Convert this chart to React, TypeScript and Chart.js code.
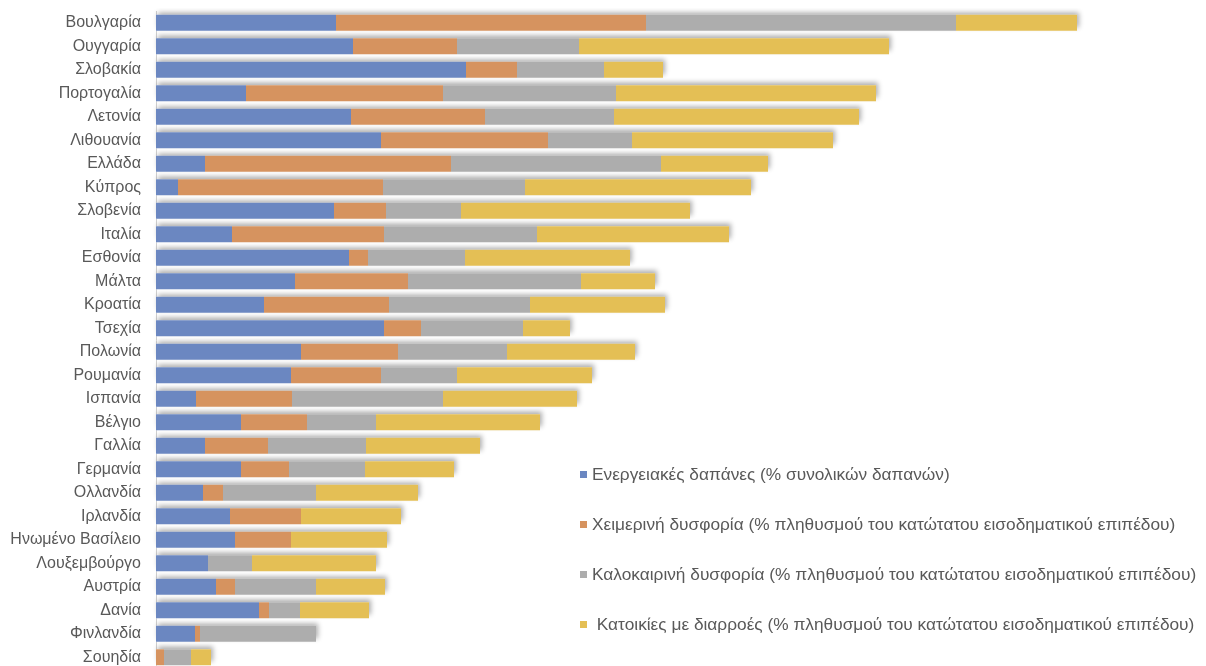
import React, { useEffect, useRef } from "react";
import { Chart, registerables } from "chart.js";

Chart.register(...registerables);

const countries = [
  "Βουλγαρία", "Ουγγαρία", "Σλοβακία", "Πορτογαλία", "Λετονία", "Λιθουανία", "Ελλάδα",
  "Κύπρος", "Σλοβενία", "Ιταλία", "Εσθονία", "Μάλτα", "Κροατία", "Τσεχία", "Πολωνία",
  "Ρουμανία", "Ισπανία", "Βέλγιο", "Γαλλία", "Γερμανία", "Ολλανδία", "Ιρλανδία",
  "Ηνωμένο Βασίλειο", "Λουξεμβούργο", "Αυστρία", "Δανία", "Φινλανδία", "Σουηδία",
];

const energyCosts = [18.0, 19.7, 31.0, 9.0, 19.5, 22.5, 4.9, 2.2, 17.8, 7.6, 19.3, 13.9, 10.8, 22.8, 14.5, 13.5, 4.0, 8.5, 4.9, 8.5, 4.7, 7.4, 7.9, 5.2, 6.0, 10.3, 3.9, 0];
const winterDiscomfort = [31.0, 10.4, 5.1, 19.7, 13.4, 16.7, 24.6, 20.5, 5.2, 15.2, 1.9, 11.3, 12.5, 3.7, 9.7, 9.0, 9.6, 6.6, 6.3, 4.8, 2.0, 7.1, 5.6, 0, 1.9, 1.0, 0.5, 0.8];
const summerDiscomfort = [31.0, 12.2, 8.7, 17.3, 12.9, 8.4, 21.0, 14.2, 7.5, 15.3, 9.7, 17.3, 14.1, 10.2, 10.9, 7.6, 15.1, 6.9, 9.8, 7.6, 9.3, 0, 0, 4.4, 8.1, 3.1, 11.6, 2.7];
const leakingDwellings = [12.1, 31.0, 5.9, 26.0, 24.5, 20.1, 10.7, 22.6, 22.9, 19.2, 16.5, 7.4, 13.5, 4.7, 12.8, 13.5, 13.4, 16.4, 11.4, 8.9, 10.2, 10.0, 9.6, 12.4, 6.9, 6.9, 0, 2.0];

const seriesLabels = [
  "Ενεργειακές δαπάνες (% συνολικών δαπανών)",
  "Χειμερινή δυσφορία (% πληθυσμού του κατώτατου εισοδηματικού επιπέδου)",
  "Καλοκαιρινή δυσφορία (% πληθυσμού του κατώτατου εισοδηματικού επιπέδου)",
  " Κατοικίες με διαρροές (% πληθυσμού του κατώτατου εισοδηματικού επιπέδου)",
];
const seriesColors = ["#6b87c1", "#d6935f", "#adadad", "#e4bf55"];

const FONT = "'Liberation Sans', Arial, Helvetica, sans-serif";

// Soft shadow behind each whole stacked bar (drawn before the segments).
const shadowPlugin = {
  id: "barShadow",
  beforeDatasetsDraw(chart: any) {
    const ctx = chart.ctx;
    const metas = chart.data.datasets.map((_: any, i: number) => chart.getDatasetMeta(i));
    const x0 = chart.scales.x.getPixelForValue(0);
    ctx.save();
    ctx.shadowColor = "rgba(0,0,0,0.32)";
    ctx.shadowBlur = 5;
    ctx.shadowOffsetX = 2;
    ctx.shadowOffsetY = -3;
    ctx.fillStyle = "#ffffff";
    chart.data.labels.forEach((_: any, idx: number) => {
      let right = x0;
      let y = 0;
      let h = 0;
      metas.forEach((m: any) => {
        const el = m.data[idx];
        if (!el) return;
        right = Math.max(right, el.x);
        y = el.y;
        h = el.height;
      });
      if (right > x0) ctx.fillRect(x0, y - h / 2, right - x0, h);
    });
    ctx.restore();
  },
};

const innerLegendPlugin = {
  id: "innerLegend",
  afterDraw(chart: any) {
    const ctx = chart.ctx;
    const x = 572;
    const ys = [466, 516, 566, 616];
    ctx.save();
    ctx.font = `17.3px ${FONT}`;
    ctx.textBaseline = "middle";
    ctx.textAlign = "left";
    chart.data.datasets.forEach((ds: any, i: number) => {
      ctx.fillStyle = ds.backgroundColor;
      ctx.fillRect(x, ys[i] - 3, 7, 7);
      ctx.fillStyle = "#595959";
      ctx.fillText(ds.label, x + 12, ys[i] + 1);
    });
    ctx.restore();
  },
};

export default function App() {
  const canvasRef = useRef<HTMLCanvasElement | null>(null);

  useEffect(() => {
    if (!canvasRef.current) return;
    const series = [energyCosts, winterDiscomfort, summerDiscomfort, leakingDwellings];
    const chart = new Chart(canvasRef.current, {
      type: "bar",
      data: {
        labels: countries,
        datasets: series.map((data, i) => ({
          label: seriesLabels[i],
          data,
          backgroundColor: seriesColors[i],
          borderWidth: 0,
          categoryPercentage: 1,
          barPercentage: 0.68,
        })),
      },
      options: {
        indexAxis: "y",
        animation: false,
        responsive: false,
        maintainAspectRatio: false,
        layout: { padding: { top: 3, bottom: 1, left: 0, right: 0 } },
        plugins: {
          legend: { display: false },
          tooltip: { enabled: false },
        },
        scales: {
          x: {
            stacked: true,
            display: false,
            min: 0,
            max: 105.0,
          },
          y: {
            stacked: true,
            grid: { display: false, drawTicks: false },
            border: { display: true, color: "#d0d0d0", width: 1 },
            ticks: {
              autoSkip: false,
              padding: 15,
              color: "#595959",
              font: { size: 16, family: FONT },
            },
            afterFit(scale: any) {
              scale.width = 148;
              scale.paddingTop = 0;
              scale.paddingBottom = 0;
            },
          },
        },
      },
      plugins: [shadowPlugin, innerLegendPlugin],
    });
    return () => chart.destroy();
  }, []);

  return (
    <div style={{ width: 1198, height: 658, overflow: "hidden", background: "#fff" }}>
      <canvas ref={canvasRef} width={1198} height={662} style={{ display: "block" }} />
    </div>
  );
}
